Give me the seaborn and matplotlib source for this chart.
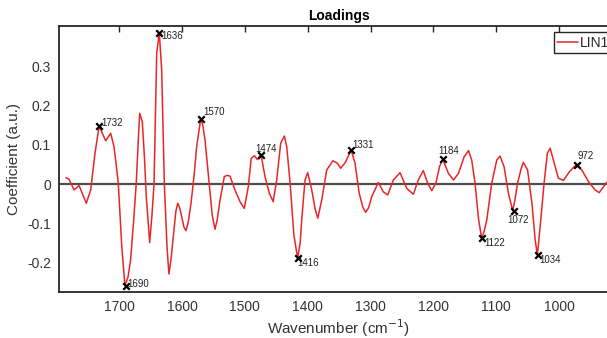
import numpy as np
import pandas as pd
import matplotlib
matplotlib.use("Agg")
import matplotlib.pyplot as plt
import seaborn as sns

# ---- data ----
wavenumber = [1785, 1780, 1772, 1764, 1752.5, 1745.5, 1738.7, 1732, 1727, 1721.7,
              1713.7, 1708.4, 1705, 1701.6, 1696, 1691, 1686, 1682, 1677, 1673,
              1669.5, 1667.5, 1663.4, 1660, 1657, 1651.6, 1648, 1644.7, 1640.4, 1636.3,
              1632.5, 1628.3, 1624, 1621, 1617.5, 1614, 1610, 1607, 1604, 1601.7,
              1597, 1593.8, 1590, 1585.8, 1581, 1576.8, 1570.4, 1567, 1563.5, 1557,
              1552, 1547.6, 1544, 1539.6, 1532.8, 1528, 1523.7, 1515.8, 1507.8, 1501,
              1494.6, 1490, 1485, 1480, 1474.4, 1468, 1461, 1455, 1449.4, 1443,
              1437.2, 1433.4, 1428, 1422, 1416, 1412, 1409.6, 1404.3, 1400, 1393.6,
              1388, 1384, 1377.7, 1369.7, 1360, 1352.8, 1347.5, 1340, 1331, 1324.7,
              1318, 1312, 1307.6, 1303, 1298, 1287.6, 1279.6, 1272.6, 1263.7, 1253,
              1242.4, 1231.8, 1224, 1216, 1209, 1202.5, 1196, 1190, 1185, 1176,
              1168, 1160, 1151, 1144, 1138.9, 1133.6, 1128, 1123, 1119, 1115,
              1107, 1099, 1093.8, 1087.4, 1080.4, 1073.6, 1070, 1066, 1060, 1056.7,
              1050, 1043, 1038, 1034.4, 1029, 1023.7, 1018.5, 1014, 1008.9, 1001,
              993, 983.4, 972.8, 963.7, 953, 942.5, 936, 929, 923, 915]
coefficient = [0.016, 0.012, -0.015, -0.004, -0.049, -0.015, 0.078, 0.148, 0.129, 0.110,
               0.129, 0.095, 0.050, 0.002, -0.160, -0.259, -0.236, -0.193, -0.090, 0.002,
               0.120, 0.180, 0.159, 0.070, -0.032, -0.149, -0.080, 0.000, 0.333, 0.385,
               0.290, 0.002, -0.160, -0.229, -0.190, -0.134, -0.070, -0.049, -0.060, -0.075,
               -0.110, -0.119, -0.095, -0.049, 0.020, 0.095, 0.165, 0.150, 0.112, 0.002,
               -0.080, -0.115, -0.090, -0.041, 0.019, 0.022, 0.020, -0.015, -0.045, -0.062,
               -0.007, 0.065, 0.072, 0.062, 0.075, 0.019, -0.024, -0.045, 0.010, 0.104,
               0.122, 0.095, 0.002, -0.130, -0.189, -0.150, -0.092, 0.010, 0.029, -0.015,
               -0.065, -0.087, -0.041, 0.036, 0.059, 0.053, 0.040, 0.055, 0.087, 0.053,
               -0.024, -0.060, -0.072, -0.060, -0.032, 0.004, -0.020, -0.028, 0.010, 0.029,
               -0.011, -0.026, 0.010, 0.034, 0.002, -0.017, 0.002, 0.045, 0.063, 0.027,
               0.010, 0.027, 0.069, 0.085, 0.061, 0.002, -0.090, -0.138, -0.120, -0.092,
               0.002, 0.061, 0.071, 0.044, -0.024, -0.068, -0.040, 0.002, 0.040, 0.055,
               0.036, -0.049, -0.140, -0.181, -0.092, 0.002, 0.078, 0.091, 0.061, 0.015,
               0.009, 0.031, 0.049, 0.036, 0.006, -0.015, -0.022, -0.007, 0.006, 0.015]

peak_labels = [1732, 1690, 1636, 1570, 1474, 1416, 1331, 1184, 1122, 1072, 1034, 972]
peak_values = [0.148, -0.259, 0.385, 0.165, 0.075, -0.189, 0.087, 0.063, -0.138, -0.068, -0.181, 0.049]

x_ticks = [1700, 1600, 1500, 1400, 1300, 1200, 1100, 1000]
y_ticks = [-0.2, -0.1, 0, 0.1, 0.2, 0.3]
y_tick_labels = ["-0.2", "-0.1", "0", "0.1", "0.2", "0.3"]

# label offsets in pixels (dx, dy up), style only
label_offsets = {1732: (2, 3), 1690: (2, 2), 1636: (2, -3), 1570: (2, 7),
                 1474: (-6, 6), 1416: (0, -5), 1331: (1, 5), 1184: (-5, 8),
                 1122: (2, -5), 1072: (-6, -9), 1034: (2, -5), 972: (1, 9)}

# ---- styling ----
sns.set_style("white")
plt.rcParams['font.family'] = ['Liberation Sans', 'DejaVu Sans']
dark = '#262626'

df = pd.DataFrame({"Wavenumber": wavenumber, "Coefficient": coefficient})
peaks = pd.DataFrame({"Wavenumber": [float(p) for p in peak_labels], "Coefficient": peak_values})

fig = plt.figure(figsize=(6.07, 3.38), dpi=100)
W, H = 607, 338
left, right, top, bottom = 59.3, 618.0, 26.0, 291.7
ax = fig.add_axes([left / W, 1 - bottom / H, (right - left) / W, (bottom - top) / H])

ax.axhline(0, color='#4d4d4d', lw=1.6, zorder=1)
sns.lineplot(data=df, x="Wavenumber", y="Coefficient", ax=ax, color='#e8262a',
             lw=1.1, sort=False, label="LIN1", zorder=2)
sns.scatterplot(data=peaks, x="Wavenumber", y="Coefficient", ax=ax, marker='x',
                color='black', s=22, linewidth=1.6, zorder=3, legend=False)

px2pt = 72 / 100
for lab, val in zip(peak_labels, peak_values):
    dx, dy = label_offsets[lab]
    ax.annotate(str(lab), (lab, val), xytext=(dx * px2pt, dy * px2pt),
                textcoords='offset points', ha='left', va='center',
                fontsize=7, color='#222222', zorder=4)

ax.set_xlim(1795.5, 906)
ax.set_ylim(-0.274, 0.402)
ax.set_xticks(x_ticks)
ax.set_yticks(y_ticks)
ax.set_yticklabels(y_tick_labels)

for s in ax.spines.values():
    s.set_color(dark)
    s.set_linewidth(1.3)
ax.tick_params(axis='both', direction='in', length=4.5, width=1.0, colors=dark,
               labelsize=10, top=True, right=True, pad=6)
ax.tick_params(axis='both', labelcolor='#333333')

ax.set_xlabel("Wavenumber (cm$^{-1}$)", fontsize=11, color='#333333', labelpad=2)
ax.set_ylabel("Coefficient (a.u.)", fontsize=11, color='#333333', labelpad=4)
ax.set_title("Loadings", fontsize=10, fontweight='bold', color='black', pad=4)

leg = ax.legend(loc='upper left', bbox_to_anchor=(0.885, 0.976), borderaxespad=0,
                frameon=True, fancybox=False, fontsize=10, handlelength=1.5,
                handletextpad=0.1, borderpad=0.25, framealpha=1)
leg.get_frame().set_edgecolor(dark)
leg.get_frame().set_linewidth(1.0)

fig.savefig("out.png", dpi=100)
